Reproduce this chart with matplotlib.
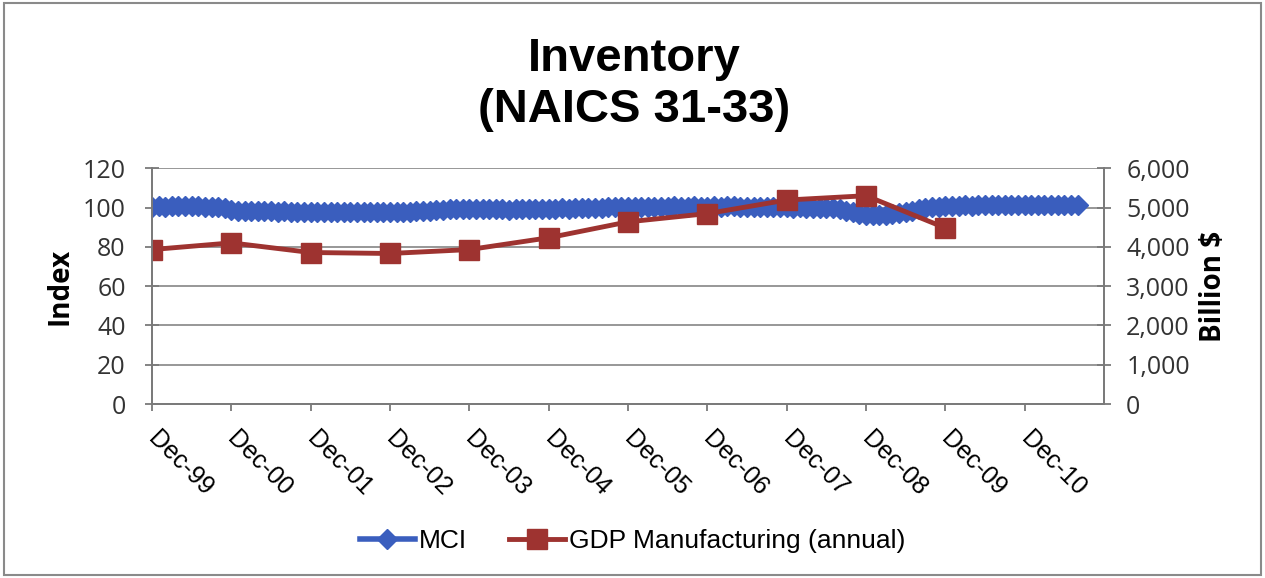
import numpy as np
import matplotlib.pyplot as plt
from matplotlib.patches import Rectangle

# MCI index, monthly, Dec-99 .. Aug-11
mci = [
    100.4, 100.6, 100.5, 100.8, 100.7, 100.6, 100.9, 100.7, 100.5, 100.4, 100.2, 99.8,   # Dec-99 .. Nov-00
    98.6, 98.3, 98.2, 98.1, 98.0, 98.1, 98.0, 97.9, 98.0, 97.8, 97.9, 97.7,              # Dec-00 .. Nov-01
    97.8, 97.6, 97.7, 97.8, 97.6, 97.7, 97.9, 97.8, 97.6, 97.7, 97.8, 97.9,              # Dec-01 .. Nov-02
    97.7, 97.6, 97.8, 97.9, 98.0, 98.1, 98.3, 98.6, 98.8, 99.0, 99.2, 99.3,              # Dec-02 .. Nov-03
    99.2, 99.1, 99.0, 99.1, 99.2, 99.0, 98.9, 99.0, 99.1, 99.0, 99.2, 99.3,              # Dec-03 .. Nov-04
    99.2, 99.4, 99.5, 99.4, 99.6, 99.7, 99.8, 99.9, 100.0, 100.1, 100.2, 100.3,          # Dec-04 .. Nov-05
    100.2, 100.4, 100.3, 100.5, 100.4, 100.3, 100.5, 100.6, 100.4, 100.5, 100.6, 100.5,  # Dec-05 .. Nov-06
    100.4, 100.6, 100.5, 100.7, 100.6, 100.5, 100.4, 100.5, 100.3, 100.4, 100.2, 100.1,  # Dec-06 .. Nov-07
    100.2, 100.0, 100.1, 99.9, 99.8, 99.6, 99.5, 99.8, 99.2, 98.4, 97.6, 96.9,           # Dec-07 .. Nov-08
    96.4, 96.2, 96.1, 96.3, 96.6, 97.0, 97.6, 98.3, 99.0, 99.6, 100.1, 100.5,            # Dec-08 .. Nov-09
    100.8, 101.0, 101.0, 101.1, 101.0, 101.2, 101.1, 101.3, 101.2, 101.1, 101.3, 101.4,  # Dec-09 .. Nov-10
    101.3, 101.2, 101.4, 101.5, 101.4, 101.3, 101.5, 101.4, 101.3,                      # Dec-10 .. Aug-11
]

# GDP manufacturing, billion $, annual (December points)
gdp = [3930, 4100, 3855, 3830, 3930, 4230, 4635, 4845, 5190, 5300, 4480]
gdp_month = [0, 12, 24, 36, 48, 60, 72, 84, 96, 108, 120]

tick_months = [0, 12, 24, 36, 48, 60, 72, 84, 96, 108, 120, 132]
tick_labels = ['Dec-99', 'Dec-00', 'Dec-01', 'Dec-02', 'Dec-03', 'Dec-04',
               'Dec-05', 'Dec-06', 'Dec-07', 'Dec-08', 'Dec-09', 'Dec-10']

blue = '#3A5EBE'
red = '#9E3330'
axis_c = '#7a7a7a'
calibri_like = 'Open Sans'
arial_like = 'Liberation Sans'

fig = plt.figure(figsize=(12.65, 5.78), dpi=100)

# thin frame around the whole chart
fig.patches.append(Rectangle((0.003, 0.006), 0.994, 0.988, transform=fig.transFigure,
                             fill=False, ec='#8a8a8a', lw=1.5))

ax = fig.add_axes([0.1202, 0.301, 0.7525, 0.408])
ax2 = ax.twinx()

# MCI on the left axis
l1, = ax.plot(np.arange(len(mci)), mci, color=blue, lw=4, marker='D', ms=10,
              mec=blue, mfc=blue, label='MCI')

# GDP on the right axis
l2, = ax2.plot(gdp_month, gdp, color=red, lw=3.5, marker='s', ms=15,
               mec=red, mfc=red, label='GDP Manufacturing (annual)')

ax.set_xlim(0, 144)
ax.set_ylim(0, 120)
ax.set_yticks(range(0, 121, 20))
ax2.set_ylim(0, 6000)
ax2.set_yticks(range(0, 6001, 1000))
ax2.set_yticklabels([f'{v:,}' for v in range(0, 6001, 1000)])

ax.grid(axis='y', color=axis_c, lw=1.1)
ax.set_axisbelow(True)

for a in (ax, ax2):
    for s in a.spines.values():
        s.set_color(axis_c)
        s.set_linewidth(1.3)
    a.spines['top'].set_visible(False)

ax.set_xticks(tick_months)
ax.set_xticklabels(tick_labels, fontsize=18, family=arial_like)
ax.tick_params(axis='x', direction='out', length=5, width=1.3, color=axis_c, pad=17)
for lbl in ax.get_xticklabels():
    lbl.set_rotation(-45)
    lbl.set_ha('left')
    lbl.set_va('center')
    lbl.set_rotation_mode('anchor')

ax.tick_params(axis='y', direction='inout', length=10, width=1.3, color=axis_c, pad=14,
               labelsize=18)
ax2.tick_params(axis='y', direction='inout', length=10, width=1.3, color=axis_c, pad=11,
                labelsize=18)
for lbl in ax.get_yticklabels() + ax2.get_yticklabels():
    lbl.set_family(calibri_like)
    lbl.set_color('#333333')

ax.set_ylabel('Index', fontsize=20, fontweight='bold', family=calibri_like)
ax.yaxis.set_label_coords(-0.097, 0.5)
ax.yaxis.label.set_va('center')
ax2.set_ylabel('Billion $', fontsize=20, fontweight='bold', family=calibri_like, rotation=90)
ax2.yaxis.set_label_coords(1.115, 0.5)
ax2.yaxis.label.set_va('center')

fig.text(0.501, 0.898, 'Inventory', ha='center', va='center', fontsize=34,
         fontweight='bold', family=arial_like)
fig.text(0.501, 0.810, '(NAICS 31-33)', ha='center', va='center', fontsize=34,
         fontweight='bold', family=arial_like)

fig.legend(handles=[l1, l2], loc='center', bbox_to_anchor=(0.5, 0.064), ncol=2,
           frameon=False, prop={'family': arial_like, 'size': 19},
           handlelength=2.1, handletextpad=0.15, columnspacing=1.6)

fig.savefig('out.png', dpi=100)
